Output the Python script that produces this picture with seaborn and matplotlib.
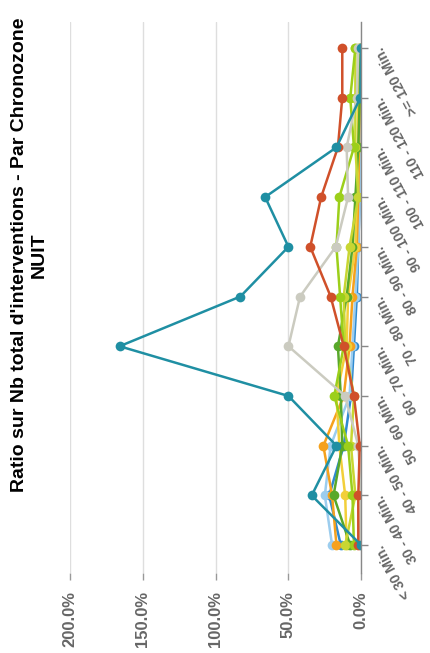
import pandas as pd
import matplotlib
matplotlib.use("Agg")
import matplotlib.pyplot as plt
import seaborn as sns

# categories, bottom to top of the picture (chart is turned a quarter turn)
categories = ["< 30 Min.", "30 - 40 Min.", "40 - 50 Min.", "50 - 60 Min.",
              "60 - 70 Min.", "70 - 80 Min.", "80 - 90 Min.", "90 - 100 Min.",
              "100 - 110 Min.", "110 - 120 Min.", ">= 120 Min."]
pct_ticks = [0, 50, 100, 150, 200]
pct_labels = ["0.0%", "50.0%", "100.0%", "150.0%", "200.0%"]

# ratio values (%), one list per series
blue = [14, 22, 12, 7, 5, 3, 2, 1, 1, 0.5, 0.5]
light_blue = [20, 25, 21, 8, 6, 4, 2, 1, 1, 0.5, 0.5]
orange = [17, 20, 26, 12, 8, 6, 3, 2, 1.5, 1, 1]
yellow = [10, 11, 15, 17, 10, 9, 4, 3, 2, 2, 2]
green = [7.5, 19, 13, 14, 16, 10, 6, 4, 2, 1, 1]
yellow_green = [11, 4, 7, 5, 11, 12, 8, 2, 4, 4, 4]
lime = [5, 6, 9, 18.5, 12, 14.5, 17, 15, 5, 7.5, 4]
gray = [1, 0, 2, 11, 50, 42, 17.5, 9, 10, 3, 2]
red = [2, 2, 1, 5, 12, 21, 35, 27.5, 16, 13, 13]
teal = [0, 34, 17, 50, 166, 83, 50, 66, 17, 0.5, 0]

series_names = ["blue", "light_blue", "orange", "yellow", "green",
                "yellow_green", "lime", "gray", "red", "teal"]
series_values = [blue, light_blue, orange, yellow, green,
                 yellow_green, lime, gray, red, teal]
series_colors = ["#2f8ad0", "#9ccdee", "#f5a11c", "#f2cf3a", "#58a82a",
                 "#c8d632", "#9ccf1a", "#cbcbc0", "#d0502a", "#1f8fa3"]

rows = []
for name, vals in zip(series_names, series_values):
    for i, v in enumerate(vals):
        rows.append({"serie": name, "pos": i, "ratio": v})
df = pd.DataFrame(rows)

sns.set_style("white")
plt.rcParams['font.family'] = ['Liberation Sans', 'DejaVu Sans']

fig = plt.figure(figsize=(4.3, 6.53), dpi=100)
ax = fig.add_axes([0.163, 0.1225, 0.677, 0.8438])
ax.grid(axis="x", color="#dedede", lw=1)
ax.set_axisbelow(True)

sns.lineplot(data=df, x="ratio", y="pos", hue="serie", hue_order=series_names,
             palette=dict(zip(series_names, series_colors)), marker="o",
             markersize=7, markeredgewidth=0, linewidth=1.8, sort=False,
             estimator=None, orient="y", legend=False, ax=ax)

ax.set_xlim(200, 0)
ax.set_ylim(-0.56, 10.52)
ax.set_xlabel("")
ax.set_ylabel("")

for s in ["left", "top", "bottom"]:
    ax.spines[s].set_visible(False)
ax.spines["right"].set_color("#888888")
ax.spines["right"].set_linewidth(1)

ax.yaxis.tick_right()
ax.set_yticks(range(len(categories)))
ax.set_yticklabels(categories, rotation=118, rotation_mode="anchor",
                   ha="right", va="center", color="#666666",
                   fontweight="bold", fontsize=10)
ax.tick_params(axis="y", direction="out", length=5, width=1,
               color="#888888", pad=8, right=True)

ax.set_xticks(pct_ticks)
ax.set_xticklabels(pct_labels, rotation=90, color="#666666",
                   fontweight="bold", fontsize=12)
ax.tick_params(axis="x", direction="out", length=5, width=1,
               color="#999999", pad=8, bottom=True)

fig.text(29 / 430, 1 - 255 / 653,
         "Ratio sur Nb total d'interventions - Par Chronozone\nNUIT",
         rotation=90, ha="center", va="center", multialignment="center",
         fontweight="bold", fontsize=14, color="#000000")

fig.savefig("out.png", dpi=100)
